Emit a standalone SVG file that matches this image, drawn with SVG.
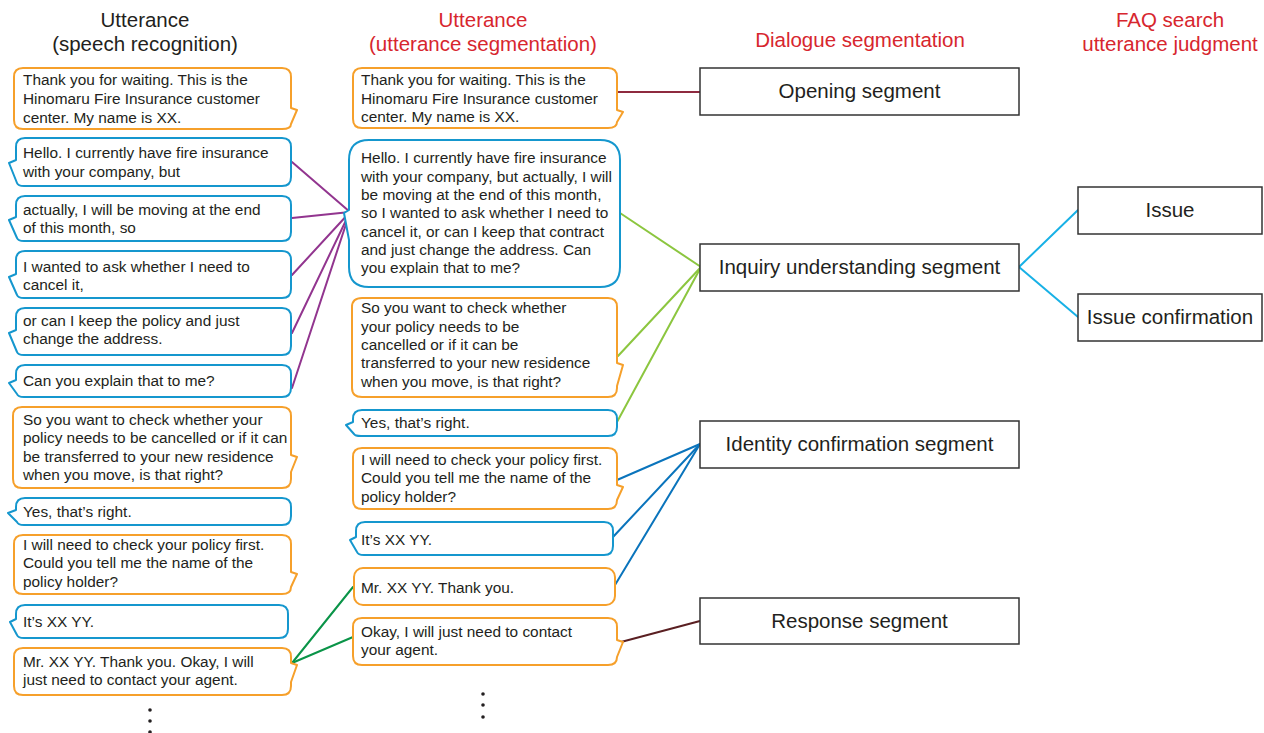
<svg xmlns="http://www.w3.org/2000/svg" width="1264" height="733" viewBox="0 0 1264 733">
<style>
.hd{font-family:"Liberation Sans",Arial,sans-serif;font-size:20.5px;text-anchor:middle;fill:#231F20}
.red{fill:#D7262E}
.bt{font-family:"Liberation Sans",Arial,sans-serif;font-size:15.4px;fill:#231F20}
.lb{font-family:"Liberation Sans",Arial,sans-serif;font-size:20.5px;text-anchor:middle;fill:#231F20}
.or{fill:#fff;stroke:#F6A02B;stroke-width:2;stroke-linejoin:round}
.bl{fill:#fff;stroke:#1597CE;stroke-width:2;stroke-linejoin:round}
.box{fill:#fff;stroke:#333;stroke-width:1.5}
.cn{fill:none;stroke-width:2;stroke-linecap:round}
.dot{fill:#231F20}
</style>
<rect width="1264" height="733" fill="#fff"/>
<g id="headers">
<text class="hd" x="145" y="27">Utterance</text>
<text class="hd" x="145" y="51">(speech recognition)</text>
<text class="hd red" x="483" y="27">Utterance</text>
<text class="hd red" x="483" y="51">(utterance segmentation)</text>
<text class="hd red" x="860" y="47">Dialogue segmentation</text>
<text class="hd red" x="1170" y="27">FAQ search</text>
<text class="hd red" x="1170" y="51">utterance judgment</text>
</g>
<g id="connectors">
<line class="cn" stroke="#8E2A3F" x1="617" y1="92" x2="700" y2="92"/>
<g stroke="#92358F">
<line class="cn" x1="292" y1="162" x2="350" y2="212"/>
<line class="cn" x1="292" y1="218" x2="350" y2="212"/>
<line class="cn" x1="292" y1="275" x2="350" y2="212"/>
<line class="cn" x1="292" y1="333" x2="350" y2="212"/>
<line class="cn" x1="292" y1="388" x2="350" y2="212"/>
</g>
<g stroke="#8CC63F">
<line class="cn" x1="620" y1="213" x2="701" y2="267"/>
<line class="cn" x1="618" y1="356" x2="701" y2="267"/>
<line class="cn" x1="617" y1="422" x2="701" y2="267"/>
</g>
<g stroke="#0A74BC">
<line class="cn" x1="617" y1="480" x2="700" y2="444"/>
<line class="cn" x1="613" y1="537" x2="700" y2="444"/>
<line class="cn" x1="615" y1="585" x2="700" y2="444"/>
</g>
<line class="cn" stroke="#5A1F22" x1="621" y1="642" x2="700" y2="621"/>
<g stroke="#0A9448">
<line class="cn" x1="292" y1="663" x2="353" y2="587"/>
<line class="cn" x1="292" y1="663" x2="353" y2="637"/>
</g>
<g stroke="#18B1E6">
<line class="cn" x1="1019" y1="267" x2="1078" y2="210"/>
<line class="cn" x1="1019" y1="267" x2="1078" y2="317"/>
</g>
</g>
<g id="L1">
<path class="or" d="M23,68 H282 Q291,68 291,77 V108 L297,110 L291,124 Q291,129 282,129 H23 Q14,129 14,120 V77 Q14,68 23,68 Z"/>
<text class="bt" x="23" y="85">Thank you for waiting. This is the</text>
<text class="bt" x="23" y="104">Hinomaru Fire Insurance customer</text>
<text class="bt" x="23" y="123">center. My name is XX.</text>
</g>
<g id="L2">
<path class="bl" d="M25,138 H282 Q291,138 291,147 V177 Q291,186 282,186 H24 Q18,186 17,183 L9,163 L16,160 V147 Q16,138 25,138 Z"/>
<text class="bt" x="23" y="158">Hello. I currently have fire insurance</text>
<text class="bt" x="23" y="177">with your company, but</text>
</g>
<g id="L3">
<path class="bl" d="M25,196 H282 Q291,196 291,205 V232 Q291,241 282,241 H24 Q18,241 17,238 L9,220 L16,217 V205 Q16,196 25,196 Z"/>
<text class="bt" x="23" y="215">actually, I will be moving at the end</text>
<text class="bt" x="23" y="233">of this month, so</text>
</g>
<g id="L4">
<path class="bl" d="M25,251 H282 Q291,251 291,260 V289 Q291,298 282,298 H24 Q18,298 17,295 L9,277 L16,274 V260 Q16,251 25,251 Z"/>
<text class="bt" x="23" y="272">I wanted to ask whether I need to</text>
<text class="bt" x="23" y="290">cancel it,</text>
</g>
<g id="L5">
<path class="bl" d="M25,308 H282 Q291,308 291,317 V346 Q291,355 282,355 H24 Q18,355 17,352 L9,333 L16,330 V317 Q16,308 25,308 Z"/>
<text class="bt" x="23" y="326">or can I keep the policy and just</text>
<text class="bt" x="23" y="344">change the address.</text>
</g>
<g id="L6">
<path class="bl" d="M25,365 H282 Q291,365 291,374 V388 Q291,397 282,397 H24 Q18,397 17,394 L9,383 L16,380 V374 Q16,365 25,365 Z"/>
<text class="bt" x="23" y="386">Can you explain that to me?</text>
</g>
<g id="L7">
<path class="or" d="M22,407 H282 Q291,407 291,416 V455 L297,457 L291,472 V479 Q291,488 282,488 H22 Q13,488 13,479 V416 Q13,407 22,407 Z"/>
<text class="bt" x="23" y="425">So you want to check whether your</text>
<text class="bt" x="23" y="443">policy needs to be cancelled or if it can</text>
<text class="bt" x="23" y="462">be transferred to your new residence</text>
<text class="bt" x="23" y="480">when you move, is that right?</text>
</g>
<g id="L8">
<path class="bl" d="M25,498 H282 Q291,498 291,507 V516 Q291,525 282,525 H24 Q18,525 17,522 L8,513 L16,510 V507 Q16,498 25,498 Z"/>
<text class="bt" x="23" y="517">Yes, that’s right.</text>
</g>
<g id="L9">
<path class="or" d="M23,535 H282 Q291,535 291,544 V572 L297,574 L291,587 Q291,594 282,594 H23 Q14,594 14,585 V544 Q14,535 23,535 Z"/>
<text class="bt" x="23" y="550">I will need to check your policy first.</text>
<text class="bt" x="23" y="568">Could you tell me the name of the</text>
<text class="bt" x="23" y="587">policy holder?</text>
</g>
<g id="L10">
<path class="bl" d="M25,605 H279 Q288,605 288,614 V629 Q288,638 279,638 H24 Q18,638 17,635 L10,622 L16,619 V614 Q16,605 25,605 Z"/>
<text class="bt" x="23" y="627">It’s XX YY.</text>
</g>
<g id="L11">
<path class="or" d="M23,648 H282 Q291,648 291,657 V663 L297,665 L291,682 V686 Q291,695 282,695 H23 Q14,695 14,686 V657 Q14,648 23,648 Z"/>
<text class="bt" x="23" y="667">Mr. XX YY. Thank you. Okay, I will</text>
<text class="bt" x="23" y="685">just need to contact your agent.</text>
</g>
<g id="dots-left">
<circle class="dot" cx="150" cy="710" r="1.8"/>
<circle class="dot" cx="150" cy="721" r="1.8"/>
<circle class="dot" cx="150" cy="732" r="1.8"/>
</g>
<g id="M1">
<path class="or" d="M362,68 H608 Q617,68 617,77 V110 L623,112 L617,122 Q617,128 608,128 H362 Q353,128 353,119 V77 Q353,68 362,68 Z"/>
<text class="bt" x="361" y="85">Thank you for waiting. This is the</text>
<text class="bt" x="361" y="104">Hinomaru Fire Insurance customer</text>
<text class="bt" x="361" y="122">center. My name is XX.</text>
</g>
<g id="M2">
<path class="bl" d="M369,140 H600 Q620,140 620,160 V267 Q620,287 600,287 H369 Q349,287 349,267 V240 L344,213 L349,210 V160 Q349,140 369,140 Z"/>
<text class="bt" x="361" y="163">Hello. I currently have fire insurance</text>
<text class="bt" x="361" y="182">with your company, but actually, I will</text>
<text class="bt" x="361" y="200">be moving at the end of this month,</text>
<text class="bt" x="361" y="218">so I wanted to ask whether I need to</text>
<text class="bt" x="361" y="237">cancel it, or can I keep that contract</text>
<text class="bt" x="361" y="255">and just change the address. Can</text>
<text class="bt" x="361" y="273">you explain that to me?</text>
</g>
<g id="M3">
<path class="or" d="M362,298 H608 Q617,298 617,307 V363 L623,365 L617,386 V388 Q617,397 608,397 H362 Q352,397 352,388 V307 Q352,298 362,298 Z"/>
<text class="bt" x="361" y="313">So you want to check whether</text>
<text class="bt" x="361" y="332">your policy needs to be</text>
<text class="bt" x="361" y="350">cancelled or if it can be</text>
<text class="bt" x="361" y="368">transferred to your new residence</text>
<text class="bt" x="361" y="387">when you move, is that right?</text>
</g>
<g id="M4">
<path class="bl" d="M362,410 H608 Q617,410 617,419 V427 Q617,436 608,436 H361 Q355,436 354,434 L346,425 L353,422 V419 Q353,410 362,410 Z"/>
<text class="bt" x="361" y="428">Yes, that’s right.</text>
</g>
<g id="M5">
<path class="or" d="M362,448 H608 Q617,448 617,457 V485 L623,487 L617,500 Q617,509 608,509 H362 Q353,509 353,500 V457 Q353,448 362,448 Z"/>
<text class="bt" x="361" y="465">I will need to check your policy first.</text>
<text class="bt" x="361" y="483">Could you tell me the name of the</text>
<text class="bt" x="361" y="502">policy holder?</text>
</g>
<g id="M6">
<path class="bl" d="M365,522 H604 Q613,522 613,531 V546 Q613,555 604,555 H364 Q358,555 357,552 L350,540 L356,537 V531 Q356,522 365,522 Z"/>
<text class="bt" x="361" y="545">It’s XX YY.</text>
</g>
<g id="M7">
<rect class="or" x="354" y="568" width="261" height="37" rx="9"/>
<text class="bt" x="361" y="593">Mr. XX YY. Thank you.</text>
</g>
<g id="M8">
<path class="or" d="M362,618 H608 Q617,618 617,627 V640 L623,642 L617,657 Q617,665 608,665 H362 Q353,665 353,656 V627 Q353,618 362,618 Z"/>
<text class="bt" x="361" y="637">Okay, I will just need to contact</text>
<text class="bt" x="361" y="655">your agent.</text>
</g>
<g id="dots-mid">
<circle class="dot" cx="483" cy="694" r="1.8"/>
<circle class="dot" cx="483" cy="705" r="1.8"/>
<circle class="dot" cx="483" cy="717" r="1.8"/>
</g>
<g id="seg-opening">
<rect class="box" x="700" y="68" width="319" height="47"/>
<text class="lb" x="859.5" y="98">Opening segment</text>
</g>
<g id="seg-inquiry">
<rect class="box" x="700" y="244" width="319" height="47"/>
<text class="lb" x="859.5" y="274">Inquiry understanding segment</text>
</g>
<g id="seg-identity">
<rect class="box" x="700" y="421" width="319" height="47"/>
<text class="lb" x="859.5" y="451">Identity confirmation segment</text>
</g>
<g id="seg-response">
<rect class="box" x="700" y="598" width="319" height="46"/>
<text class="lb" x="859.5" y="628">Response segment</text>
</g>
<g id="faq-issue">
<rect class="box" x="1078" y="187" width="184" height="47"/>
<text class="lb" x="1170" y="217">Issue</text>
</g>
<g id="faq-issue-confirmation">
<rect class="box" x="1078" y="294" width="184" height="47"/>
<text class="lb" x="1170" y="324">Issue confirmation</text>
</g>
</svg>
